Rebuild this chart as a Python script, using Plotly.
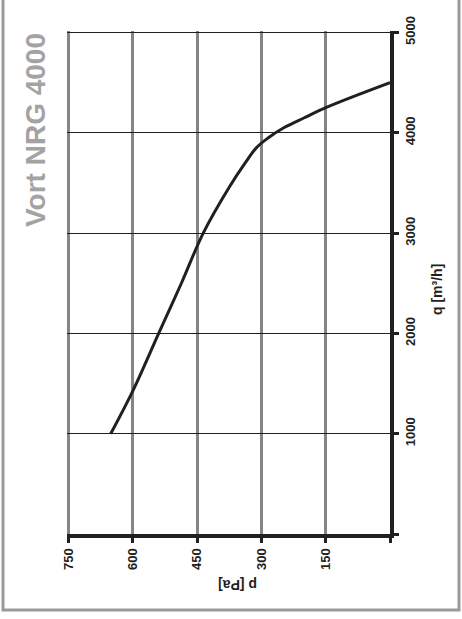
import plotly.graph_objects as go

# Fan curve: static pressure p [Pa] against airflow q [m³/h]
airflow_q = [1000, 1430, 2000, 2500, 3000, 3460, 3700, 3850, 3950, 4050, 4150, 4250, 4375, 4500]
pressure_p = [652, 600, 540, 487, 436, 375, 338, 312, 284, 248, 200, 150, 77, 0]

p_ticks = [750, 600, 450, 300, 150, 0]
p_ticklabels = ["750", "600", "450", "300", "150", ""]
q_ticks = [0, 1000, 2000, 3000, 4000, 5000]
q_ticklabels = ["", "1000", "2000", "3000", "4000", "5000"]

title_text = "Vort NRG 4000"
q_label = "q [m³/h]"
p_label = "p [Pa]"

W, H = 462, 619
L, R, T, B = 67, 72, 31, 85
pw, ph = W - L - R, H - T - B


def px_x(x):
    return (x - L) / pw


def px_y(y):
    return (H - B - y) / ph


ink = "#231f20"
grid_gray = "#858585"
family = "Liberation Sans, Arial, sans-serif"
label_font = dict(family=family, size=13, color=ink, weight="bold")

fig = go.Figure()
fig.add_trace(go.Scatter(
    x=pressure_p, y=airflow_q, mode="lines",
    line=dict(color=ink, width=3, shape="spline", smoothing=1.0),
    hoverinfo="skip", showlegend=False,
))

fig.update_layout(
    width=W, height=H,
    margin=dict(l=L, r=R, t=T, b=B, pad=0),
    paper_bgcolor="white", plot_bgcolor="white",
    xaxis=dict(
        # a little headroom past 750 so the outer grid line is kept
        range=[754, 0], tickmode="array", tickvals=p_ticks, ticktext=p_ticklabels,
        tickangle=-90, tickfont=label_font,
        showgrid=True, gridcolor=grid_gray, gridwidth=3,
        zeroline=False, showline=True, linecolor=ink, linewidth=4,
        ticks="outside", ticklen=5, tickwidth=3, tickcolor=ink,
        fixedrange=True,
    ),
    yaxis=dict(
        range=[0, 5015], side="right", tickmode="array", tickvals=q_ticks, ticktext=q_ticklabels,
        tickangle=-90, tickfont=label_font,
        showgrid=True, gridcolor=ink, gridwidth=1,
        zeroline=False, showline=True, linecolor=ink, linewidth=4,
        ticks="outside", ticklen=5, tickwidth=3, tickcolor=ink,
        fixedrange=True,
    ),
    shapes=[dict(
        type="path", xref="paper", yref="paper",
        path=f"M {px_x(3)},{px_y(-5)} L {px_x(3)},{px_y(610)} L {px_x(459)},{px_y(610)} L {px_x(459)},{px_y(-5)}",
        line=dict(color="#9a9a9a", width=3),
    )],
    annotations=[
        dict(text=title_text, xref="paper", yref="paper", x=px_x(35), y=px_y(130),
             xanchor="center", yanchor="middle", textangle=-90, showarrow=False,
             font=dict(family=family, size=28, color="#a3a3a3", weight="bold")),
        dict(text=q_label, xref="paper", yref="paper", x=px_x(437), y=px_y(289),
             xanchor="center", yanchor="middle", textangle=-90, showarrow=False,
             font=dict(family=family, size=14, color=ink, weight="bold")),
        dict(text=p_label, xref="paper", yref="paper", x=px_x(238), y=px_y(585),
             xanchor="center", yanchor="middle", textangle=180, showarrow=False,
             font=dict(family=family, size=14, color=ink, weight="bold")),
    ],
)

fig.write_html("out.html", config={"displayModeBar": False})
